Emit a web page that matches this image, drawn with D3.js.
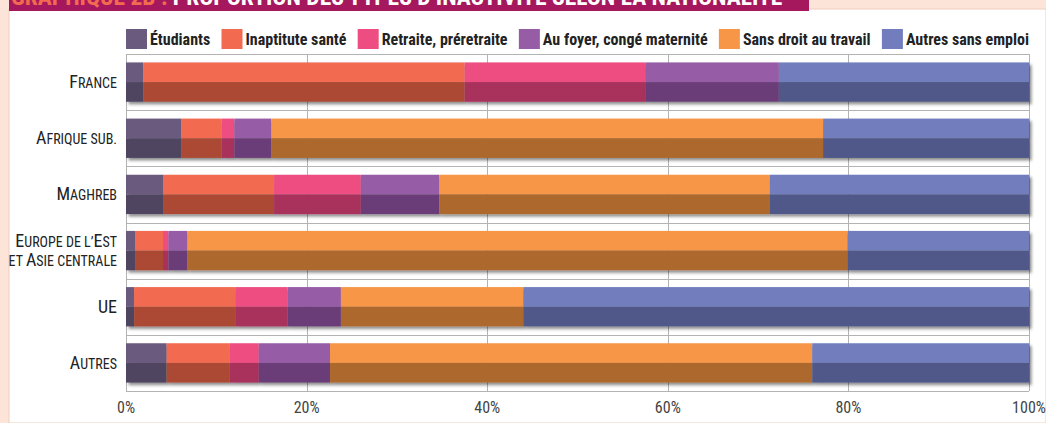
<!DOCTYPE html>
<html>
<head>
<meta charset="utf-8">
<script src="https://cdn.jsdelivr.net/npm/d3@7"></script>
<style>
  body { margin: 0; background: #ffffff; }
  svg { display: block; }
  .cond { font-family: "Liberation Sans Narrow", "Roboto Condensed", "DejaVu Sans Condensed", sans-serif; }
</style>
</head>
<body>
<div class="chart"></div>
<script>
// stacked bars: types of inactivity by nationality (in %)
var categories = ["France", "Afrique sub.", "Maghreb", "Europe de l’Est\net Asie centrale", "UE", "Autres"];
var seriesNames = ["Étudiants", "Inaptitute santé", "Retraite, préretraite",
                   "Au foyer, congé maternité", "Sans droit au travail", "Autres sans emploi"];
var etudiants  = [1.9, 6.1, 4.1, 1.0, 0.9, 4.5];
var inaptitude = [35.6, 4.5, 12.3, 3.1, 11.2, 7.0];
var retraite   = [20.0, 1.4, 9.6, 0.6, 5.8, 3.2];
var auFoyer    = [14.8, 4.1, 8.7, 2.1, 5.9, 7.9];
var sansDroit  = [0.0, 61.1, 36.6, 73.1, 20.2, 53.4];
var autres     = [27.7, 22.8, 28.7, 20.1, 56.0, 24.0];
var tickValues = [0, 20, 40, 60, 80, 100];
var topColors    = ["#6a5a7e", "#f26b50", "#ed4d80", "#965ca6", "#f79646", "#717dbd"];
var bottomColors = ["#4f4560", "#ab4a36", "#a9305c", "#6b3d78", "#ad672e", "#4f5888"];

var W = 1046, H = 423;
var plot = {left: 126, right: 1029, top: 54, bottom: 391};

var svg = d3.select(".chart")
            .append("svg")
            .attr("width", W)
            .attr("height", H);

var defs = svg.append("defs");

// shadow under the bars
defs.append("filter")
    .attr("id", "shadow")
    .attr("x", "-5%").attr("y", "-20%")
    .attr("width", "110%").attr("height", "150%")
    .append("feDropShadow")
    .attr("dx", 2.5).attr("dy", 2.5)
    .attr("stdDeviation", 1.6)
    .attr("flood-color", "#000")
    .attr("flood-opacity", 0.45);

// clip for the title bar
defs.append("clipPath")
    .attr("id", "titleclip")
    .append("rect")
    .attr("x", 9).attr("y", 0)
    .attr("width", 800).attr("height", 11);

// frame: beige edges, magenta title bar
svg.append("rect").attr("x", 0).attr("y", 0).attr("width", W).attr("height", H).attr("fill", "#fde4d8");
svg.append("rect").attr("x", 9).attr("y", 9).attr("width", W - 9).attr("height", H - 9)
   .attr("fill", "#ffffff").attr("stroke", "#efcdbd").attr("stroke-width", 1);
svg.append("rect").attr("x", 9).attr("y", 0).attr("width", 800).attr("height", 11).attr("fill", "#a6185d");

// title, only its lower part shows (cut by the top edge as in the source)
var title = svg.append("text")
               .attr("class", "cond")
               .attr("clip-path", "url(#titleclip)")
               .attr("x", 11)
               .attr("y", 5)
               .style("font-size", "23.5px")
               .style("font-weight", "bold");
title.append("tspan").attr("fill", "#f26b50").text("GRAPHIQUE 2B : ");
title.append("tspan").attr("fill", "#ffffff").text("PROPORTION DES TYPES D’INACTIVITÉ SELON LA NATIONALITÉ");

// build table for the stack
var seriesValues = [etudiants, inaptitude, retraite, auFoyer, sansDroit, autres];
var table = categories.map(function(c, i) {
  var row = {category: c};
  seriesNames.forEach(function(s, j) { row[s] = seriesValues[j][i]; });
  return row;
});
var stacked = d3.stack().keys(seriesNames)(table);

var x = d3.scaleLinear()
          .domain([0, 100])
          .range([plot.left, plot.right]);

var y = d3.scaleBand()
          .domain(categories)
          .range([plot.top, plot.bottom])
          .paddingInner(0.3)
          .paddingOuter(0.15);

// grid
var grid = svg.append("g").attr("stroke", "#b3b3b3").attr("stroke-width", 1);
grid.selectAll(".v")
    .data(tickValues)
    .enter()
    .append("line")
    .attr("x1", function(d) { return Math.round(x(d)) + 0.5; })
    .attr("x2", function(d) { return Math.round(x(d)) + 0.5; })
    .attr("y1", plot.top)
    .attr("y2", plot.bottom);
grid.selectAll(".h")
    .data(d3.range(categories.length + 1))
    .enter()
    .append("line")
    .attr("x1", plot.left)
    .attr("x2", plot.right)
    .attr("y1", function(i) { return Math.round(plot.top + i * y.step()) + 0.5; })
    .attr("y2", function(i) { return Math.round(plot.top + i * y.step()) + 0.5; });

// bars, each one split into a light top half and a dark bottom half
var barGroups = svg.selectAll(".bar")
                   .data(categories)
                   .enter()
                   .append("g")
                   .attr("class", "bar")
                   .attr("filter", "url(#shadow)");

barGroups.each(function(cat, i) {
  var g = d3.select(this);
  var half = y.bandwidth() / 2;
  stacked.forEach(function(layer, j) {
    var seg = layer[i];
    if (seg[1] - seg[0] <= 0) return;
    g.append("rect")
     .attr("x", x(seg[0]))
     .attr("y", y(cat))
     .attr("width", x(seg[1]) - x(seg[0]))
     .attr("height", half)
     .attr("fill", topColors[j]);
    g.append("rect")
     .attr("x", x(seg[0]))
     .attr("y", y(cat) + half)
     .attr("width", x(seg[1]) - x(seg[0]))
     .attr("height", half)
     .attr("fill", bottomColors[j]);
  });
});

// category labels in small caps
function smallCaps(textEl, line, big, small) {
  var runs = line.match(/[A-ZÉ]+|[^A-ZÉ]+/g);
  runs.forEach(function(r) {
    var isBig = /[A-ZÉ]/.test(r[0]);
    textEl.append("tspan")
          .style("font-size", (isBig ? big : small) + "px")
          .text(r.toUpperCase());
  });
}

svg.selectAll(".ylabel")
   .data(categories)
   .enter()
   .append("g")
   .attr("class", "ylabel cond")
   .each(function(cat) {
     var lines = cat.split("\n");
     var cy = y(cat) + y.bandwidth() / 2;
     var g = d3.select(this);
     lines.forEach(function(line, k) {
       var t = g.append("text")
                .attr("x", 117)
                .attr("y", cy + 6 + (k - (lines.length - 1) / 2) * 19)
                .attr("text-anchor", "end")
                .attr("fill", "#222");
       smallCaps(t, line, 18, 14);
     });
   });

// x tick labels
svg.selectAll(".tick-label")
   .data(tickValues)
   .enter()
   .append("text")
   .attr("class", "tick-label cond")
   .attr("x", function(d) { return x(d); })
   .attr("y", 413)
   .attr("text-anchor", "middle")
   .attr("fill", "#444")
   .style("font-size", "16px")
   .text(function(d) { return d + "%"; });

// legend, spread over the plot width
var legend = svg.append("g").attr("class", "legend cond");
var items = legend.selectAll("g")
                  .data(seriesNames)
                  .enter()
                  .append("g");
items.append("rect")
     .attr("width", 21)
     .attr("height", 20)
     .attr("y", 29)
     .attr("fill", function(d, i) { return topColors[i]; });
items.append("text")
     .attr("x", 24)
     .attr("y", 45)
     .attr("fill", "#222")
     .style("font-size", "16px")
     .style("font-weight", "bold")
     .text(function(d) { return d; });

var widths = [];
items.each(function() { widths.push(24 + d3.select(this).select("text").node().getComputedTextLength()); });
var gap = (plot.right - plot.left - d3.sum(widths)) / (widths.length - 1);
var pos = plot.left;
items.attr("transform", function(d, i) {
  var t = "translate(" + pos + ",0)";
  pos += widths[i] + gap;
  return t;
});
</script>
</body>
</html>
